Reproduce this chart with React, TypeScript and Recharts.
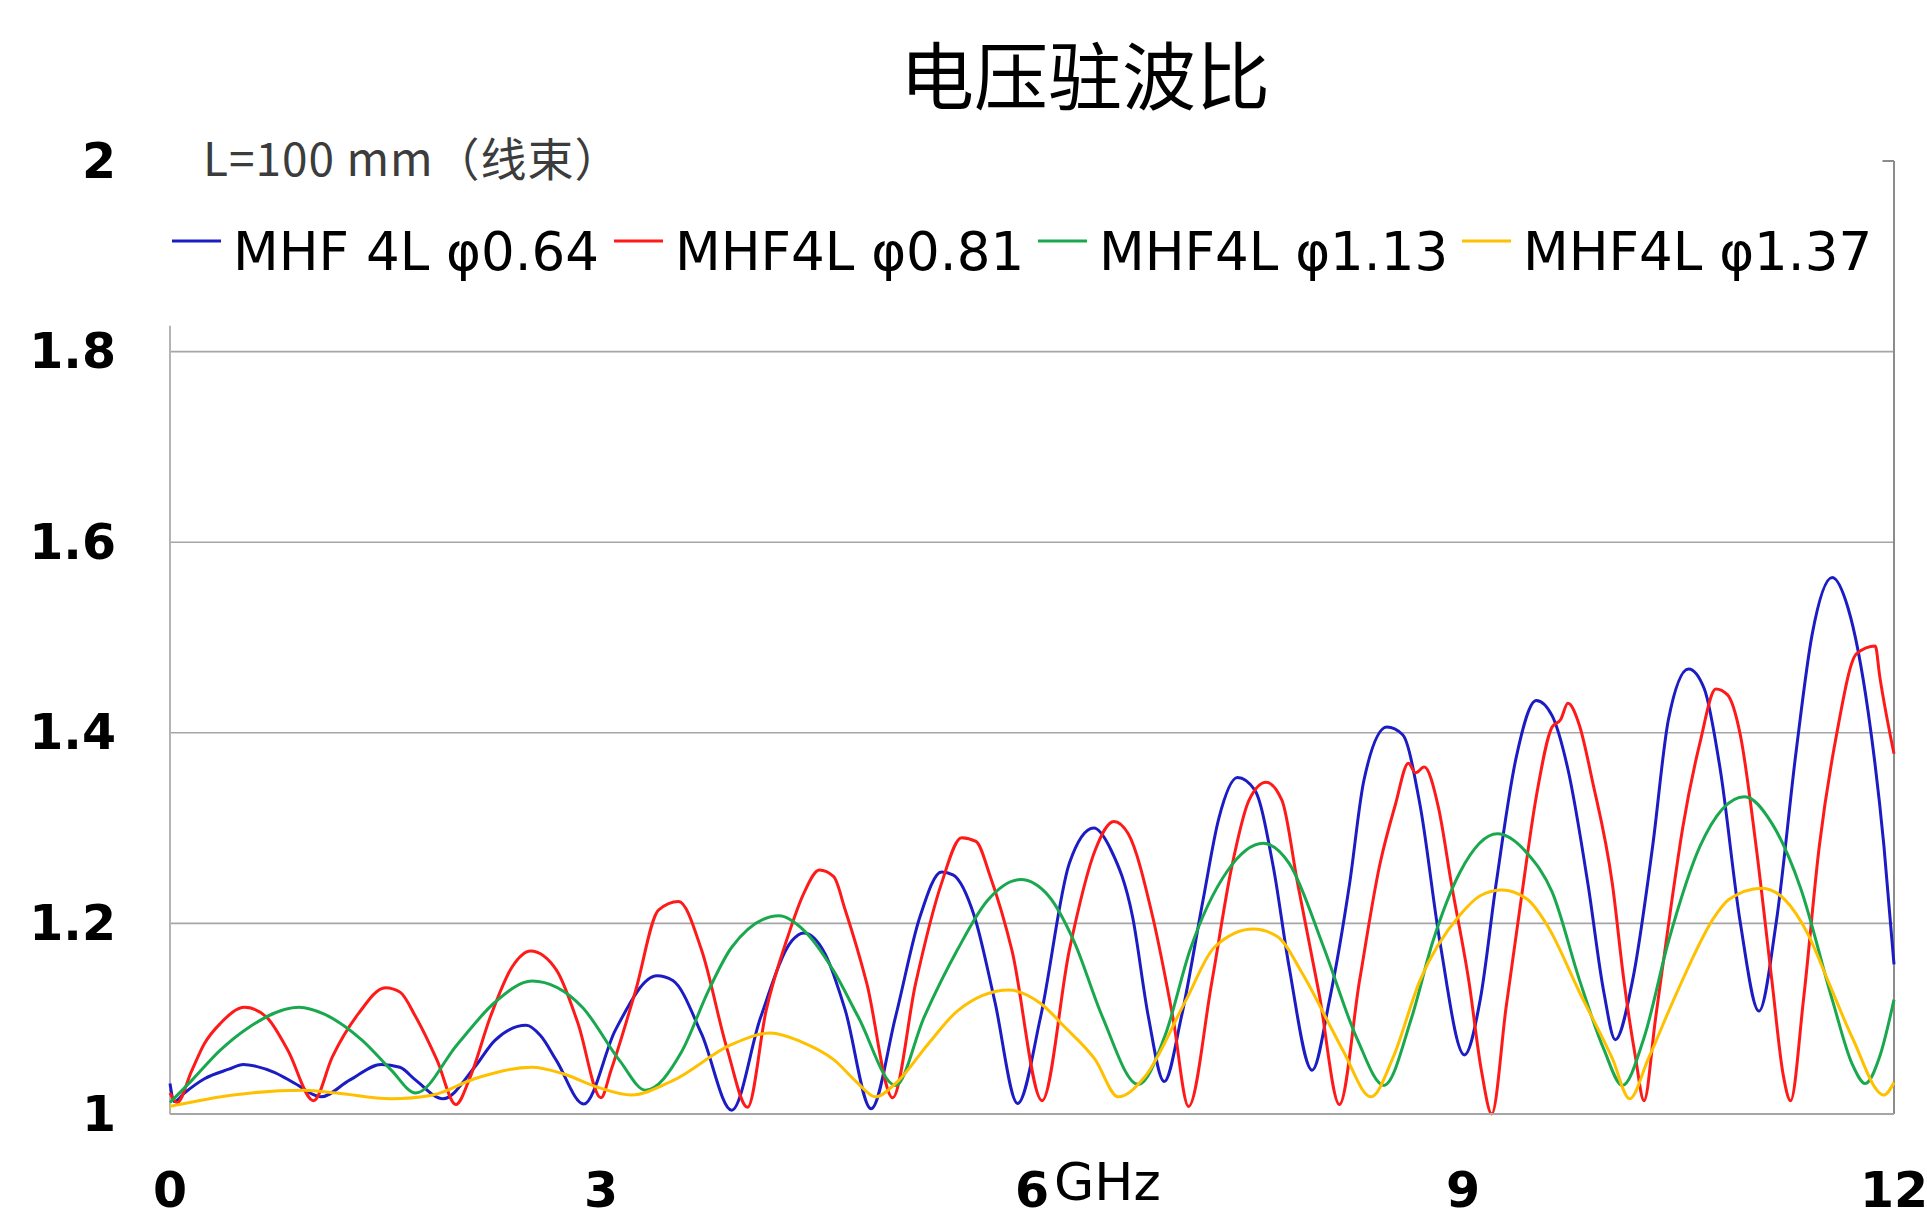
import { LineChart, Line, XAxis, YAxis, ReferenceLine } from 'recharts';

// VSWR vs frequency, L=100 mm cable, four MHF4L diameters
const blueF = [0, 0.03, 0.1, 0.24, 0.41, 0.51, 0.6, 0.73, 0.87, 1.05, 1.25, 1.47, 1.6, 1.71, 1.9, 2.12, 2.26, 2.48, 2.58, 2.69, 2.88, 3.1, 3.39, 3.5, 3.7, 3.91, 4.11, 4.33, 4.41, 4.56, 4.7, 4.88, 5.05, 5.22, 5.37, 5.45, 5.6, 5.74, 5.9, 6.06, 6.26, 6.43, 6.55, 6.7, 6.81, 6.92, 7.04, 7.19, 7.3, 7.43, 7.55, 7.68, 7.79, 7.95, 8.07, 8.21, 8.31, 8.47, 8.58, 8.7, 8.84, 9.01, 9.12, 9.23, 9.37, 9.51, 9.62, 9.73, 9.87, 9.98, 10.06, 10.18, 10.32, 10.43, 10.57, 10.68, 10.79, 10.93, 11.06, 11.18, 11.32, 11.43, 11.57, 11.68, 11.82, 11.93, 12];
const blueV = [1.032, 1.013, 1.022, 1.037, 1.047, 1.052, 1.05, 1.0435, 1.032, 1.018, 1.0355, 1.052, 1.049, 1.0355, 1.016, 1.049, 1.077, 1.093, 1.082, 1.056, 1.0105, 1.088, 1.145, 1.14, 1.084, 1.004, 1.101, 1.182, 1.19, 1.168, 1.109, 1.0055, 1.102, 1.207, 1.254, 1.251, 1.207, 1.119, 1.011, 1.102, 1.263, 1.3, 1.277, 1.207, 1.102, 1.034, 1.102, 1.224, 1.31, 1.353, 1.34, 1.259, 1.154, 1.046, 1.119, 1.241, 1.35, 1.406, 1.398, 1.325, 1.18, 1.062, 1.12, 1.241, 1.374, 1.434, 1.418, 1.362, 1.241, 1.128, 1.078, 1.14, 1.281, 1.414, 1.467, 1.446, 1.362, 1.201, 1.108, 1.201, 1.382, 1.503, 1.563, 1.531, 1.422, 1.281, 1.157];

const redF = [0, 0.05, 0.15, 0.24, 0.35, 0.52, 0.67, 0.82, 1.0, 1.13, 1.31, 1.5, 1.6, 1.71, 1.86, 1.99, 2.09, 2.23, 2.38, 2.51, 2.69, 2.84, 3.0, 3.07, 3.24, 3.4, 3.54, 3.7, 3.88, 4.02, 4.15, 4.3, 4.41, 4.52, 4.62, 4.7, 4.85, 5.03, 5.19, 5.37, 5.51, 5.61, 5.71, 5.86, 6.07, 6.26, 6.44, 6.57, 6.67, 6.84, 6.98, 7.09, 7.25, 7.39, 7.51, 7.63, 7.74, 7.85, 8.0, 8.14, 8.28, 8.42, 8.53, 8.62, 8.67, 8.73, 8.83, 8.92, 9.04, 9.13, 9.2, 9.3, 9.4, 9.51, 9.62, 9.68, 9.73, 9.81, 9.9, 10.04, 10.12, 10.2, 10.26, 10.34, 10.45, 10.53, 10.65, 10.76, 10.84, 10.93, 11.04, 11.15, 11.23, 11.28, 11.37, 11.48, 11.6, 11.74, 11.87, 11.9, 12];
const redV = [1.022, 1.012, 1.045, 1.074, 1.095, 1.112, 1.102, 1.067, 1.014, 1.06, 1.105, 1.1325, 1.128, 1.102, 1.056, 1.01, 1.039, 1.102, 1.154, 1.171, 1.151, 1.095, 1.017, 1.046, 1.129, 1.214, 1.223, 1.172, 1.067, 1.007, 1.109, 1.186, 1.231, 1.256, 1.249, 1.214, 1.137, 1.017, 1.137, 1.242, 1.29, 1.286, 1.249, 1.172, 1.014, 1.172, 1.277, 1.307, 1.294, 1.207, 1.102, 1.008, 1.137, 1.259, 1.329, 1.348, 1.329, 1.241, 1.125, 1.01, 1.14, 1.261, 1.325, 1.368, 1.358, 1.364, 1.321, 1.241, 1.14, 1.044, 1.0, 1.112, 1.22, 1.333, 1.406, 1.414, 1.431, 1.408, 1.35, 1.241, 1.14, 1.06, 1.014, 1.1, 1.22, 1.301, 1.39, 1.446, 1.44, 1.398, 1.281, 1.14, 1.04, 1.014, 1.12, 1.281, 1.398, 1.483, 1.491, 1.46, 1.378];

const greenF = [0, 0.15, 0.35, 0.53, 0.9, 1.07, 1.34, 1.54, 1.71, 2.0, 2.26, 2.52, 2.87, 3.13, 3.31, 3.56, 3.75, 3.91, 4.24, 4.41, 4.62, 4.79, 5.05, 5.25, 5.48, 5.69, 5.92, 6.12, 6.29, 6.49, 6.74, 6.93, 7.1, 7.36, 7.61, 7.79, 8.03, 8.26, 8.45, 8.64, 8.79, 8.98, 9.24, 9.45, 9.62, 9.81, 9.98, 10.11, 10.26, 10.43, 10.65, 10.96, 11.15, 11.35, 11.57, 11.71, 11.8, 11.9, 12];
const greenV = [1.012, 1.035, 1.067, 1.089, 1.112, 1.105, 1.077, 1.046, 1.022, 1.073, 1.117, 1.1395, 1.112, 1.056, 1.025, 1.065, 1.13, 1.175, 1.208, 1.193, 1.15, 1.102, 1.03, 1.102, 1.172, 1.224, 1.246, 1.228, 1.182, 1.102, 1.031, 1.084, 1.172, 1.255, 1.284, 1.263, 1.175, 1.08, 1.03, 1.1, 1.181, 1.254, 1.294, 1.273, 1.233, 1.141, 1.068, 1.03, 1.08, 1.181, 1.281, 1.333, 1.305, 1.237, 1.12, 1.052, 1.032, 1.06, 1.12];

const yellowF = [0, 0.44, 0.93, 1.16, 1.54, 1.83, 2.12, 2.52, 2.74, 2.98, 3.21, 3.5, 3.91, 4.18, 4.39, 4.62, 4.79, 4.91, 5.05, 5.28, 5.48, 5.84, 6.06, 6.23, 6.44, 6.6, 6.78, 7.07, 7.27, 7.54, 7.71, 7.88, 8.08, 8.17, 8.36, 8.51, 8.7, 8.98, 9.12, 9.27, 9.45, 9.59, 9.81, 10.04, 10.16, 10.29, 10.49, 10.76, 10.85, 11.08, 11.24, 11.4, 11.54, 11.71, 11.93, 12];
const yellowV = [1.008, 1.02, 1.025, 1.022, 1.016, 1.02, 1.037, 1.049, 1.042, 1.028, 1.02, 1.035, 1.073, 1.085, 1.076, 1.057, 1.032, 1.018, 1.032, 1.074, 1.108, 1.13, 1.116, 1.091, 1.057, 1.018, 1.038, 1.119, 1.175, 1.194, 1.186, 1.148, 1.091, 1.065, 1.018, 1.058, 1.14, 1.209, 1.229, 1.235, 1.225, 1.197, 1.128, 1.058, 1.016, 1.058, 1.128, 1.209, 1.225, 1.237, 1.225, 1.189, 1.14, 1.08, 1.02, 1.033];

const seriesNames = ['MHF 4L φ0.64', 'MHF4L φ0.81', 'MHF4L φ1.13', 'MHF4L φ1.37'];
const seriesColors = ['#1c1cc4', '#ff1a1a', '#1aa84e', '#ffc000'];
const xTicks = [0, 3, 6, 9, 12];
const yTicks = [1, 1.2, 1.4, 1.6, 1.8, 2];
const gridValues = [1.2, 1.4, 1.6, 1.8];

const title = '电压驻波比';
const subtitle = 'L=100 mm（线束）';
const unitLabel = 'GHz';

const toPoints = (fs: number[], vs: number[]) => fs.map((f, i) => ({ f, v: vs[i] }));
const seriesData = [
  toPoints(blueF, blueV),
  toPoints(redF, redV),
  toPoints(greenF, greenV),
  toPoints(yellowF, yellowV),
];

const legendX = [172, 614, 1038, 1462];

const tickFont = { fontFamily: 'DejaVu Sans', fontWeight: 700, fontSize: 49, fill: '#000' };

function YTick(props: any) {
  const { y, payload } = props;
  return (
    <text x={116} y={y} textAnchor="end" dominantBaseline="central" {...tickFont}>
      {String(payload.value)}
    </text>
  );
}

function XTick(props: any) {
  const { x, payload } = props;
  return (
    <text x={x} y={1207} textAnchor="middle" {...tickFont}>
      {String(payload.value)}
    </text>
  );
}

export default function App() {
  return (
    <div style={{ position: 'absolute', left: 0, top: 0, width: 1927, height: 1220, background: '#fff' }}>
      <LineChart width={1927} height={1220} margin={{ top: 161, right: 33, left: 0, bottom: 0 }}>
        <XAxis
          type="number"
          dataKey="f"
          domain={[0, 12]}
          ticks={xTicks}
          interval={0}
          height={106}
          tickLine={false}
          axisLine={{ stroke: '#a6a6a6', strokeWidth: 2 }}
          tick={<XTick />}
        />
        <YAxis
          type="number"
          domain={[1, 2]}
          ticks={yTicks}
          interval={0}
          width={170}
          axisLine={false}
          tickLine={false}
          tick={<YTick />}
        />
        {gridValues.map((g) => (
          <ReferenceLine key={g} y={g} stroke="#a6a6a6" strokeWidth={1.6} />
        ))}
        <ReferenceLine segment={[{ x: 0, y: 1 }, { x: 0, y: 1.827 }]} stroke="#b4b4b4" strokeWidth={2} />
        <ReferenceLine x={12} stroke="#8c8c8c" strokeWidth={2} />
        <ReferenceLine segment={[{ x: 11.92, y: 2 }, { x: 12, y: 2 }]} stroke="#8c8c8c" strokeWidth={2} />
        {seriesData.map((d, i) => (
          <Line
            key={seriesNames[i]}
            data={d}
            dataKey="v"
            name={seriesNames[i]}
            type="monotone"
            stroke={seriesColors[i]}
            strokeWidth={3}
            dot={false}
            isAnimationActive={false}
          />
        ))}
      </LineChart>
      <svg width={1927} height={1220} style={{ position: 'absolute', left: 0, top: 0, pointerEvents: 'none' }}>
        <text x={1085} y={104} textAnchor="middle" fontFamily="Noto Sans CJK SC" fontWeight={400} fontSize={74} fill="#000">
          {title}
        </text>
        <text x={203} y={176} fontFamily="Noto Sans CJK SC" fontSize={46} letterSpacing={1} fill="#3c3c3c">
          {subtitle}
        </text>
        <text x={1054} y={1200} fontFamily="DejaVu Sans" fontSize={52} fill="#000">
          {unitLabel}
        </text>
        {seriesNames.map((name, i) => (
          <g key={name}>
            <line x1={legendX[i]} x2={legendX[i] + 49} y1={241} y2={241} stroke={seriesColors[i]} strokeWidth={3} />
            <text x={legendX[i] + 61} y={270} fontFamily="DejaVu Sans" fontSize={53} fill="#000">
              {name}
            </text>
          </g>
        ))}
      </svg>
    </div>
  );
}
